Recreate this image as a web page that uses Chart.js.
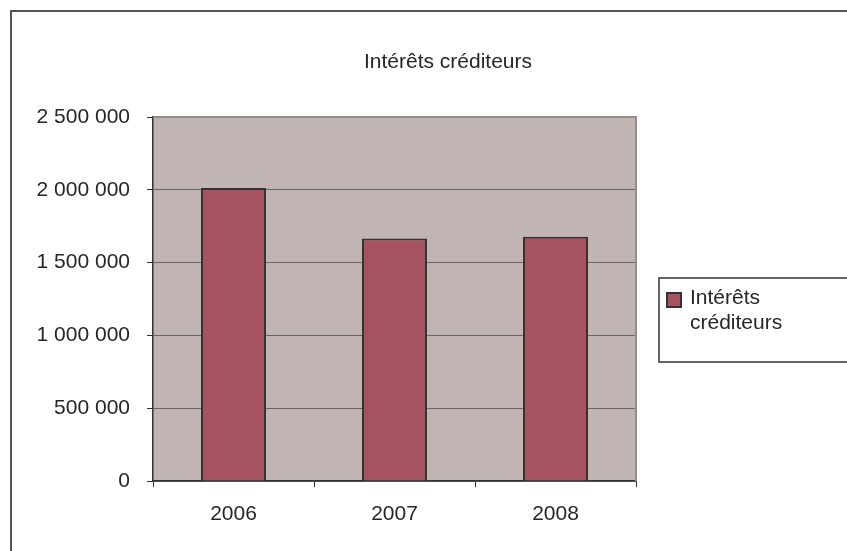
<!DOCTYPE html>
<html>
<head>
<meta charset="utf-8">
<script src="https://cdn.jsdelivr.net/npm/chart.js@4"></script>
<style>
  body { margin: 0; background: #fff; }
  canvas { display: block; }
</style>
</head>
<body>
<canvas id="chartInterets" width="847" height="551"></canvas>
<script>
// données
const annees = ['2006', '2007', '2008'];
const interets = [2013000, 1666000, 1677000];
const titre = 'Intérêts créditeurs';
const legende = ['Intérêts', 'créditeurs'];

const police = '"Liberation Sans", Arial, sans-serif';
const couleurBarre = '#A65260';

function formatNombre(v) {
    return v.toString().replace(/\B(?=(\d{3})+(?!\d))/g, ' ');
}

// fond gris de la zone de tracé + cadre, titre, légende
const decor = {
    id: 'decor',
    beforeDraw(chart) {
        const c = chart.ctx;
        const a = chart.chartArea;
        c.save();
        c.fillStyle = '#C0B5B3';
        c.fillRect(a.left, a.top, a.right - a.left, a.bottom - a.top);
        c.restore();
    },
    afterDraw(chart) {
        const c = chart.ctx;
        const a = chart.chartArea;
        c.save();
        // cadre extérieur
        c.strokeStyle = '#555';
        c.lineWidth = 2;
        c.strokeRect(11, 11, 870, 570);
        // bord haut et droit de la zone de tracé
        c.strokeStyle = '#958b89';
        c.lineWidth = 2;
        c.beginPath();
        c.moveTo(a.left, a.top);
        c.lineTo(a.right, a.top);
        c.lineTo(a.right, a.bottom);
        c.stroke();
        // titre
        c.fillStyle = '#262626';
        c.font = '21px ' + police;
        c.textAlign = 'center';
        c.textBaseline = 'middle';
        c.fillText(titre, 448, 62);
        // légende
        c.strokeStyle = '#333';
        c.lineWidth = 1.5;
        c.strokeRect(659, 278, 220, 84);
        c.fillStyle = couleurBarre;
        c.fillRect(667, 293, 14, 14);
        c.strokeStyle = '#333';
        c.lineWidth = 2;
        c.strokeRect(667, 293, 14, 14);
        c.fillStyle = '#262626';
        c.textAlign = 'left';
        c.fillText(legende[0], 690, 298);
        c.fillText(legende[1], 690, 323);
        c.restore();
    }
};

const ctx = document.getElementById('chartInterets').getContext('2d');
new Chart(ctx, {
    type: 'bar',
    data: {
        labels: annees,
        datasets: [{
            label: titre,
            data: interets,
            backgroundColor: couleurBarre,
            borderColor: '#333',
            borderWidth: 2,
            categoryPercentage: 1,
            barPercentage: 0.404
        }]
    },
    options: {
        responsive: false,
        animation: false,
        layout: { padding: { left: 0, top: 117, right: 211, bottom: 0 } },
        plugins: {
            legend: { display: false },
            title: { display: false },
            tooltip: { enabled: false }
        },
        scales: {
            x: {
                afterFit(s) { s.height = 70; },
                grid: {
                    offset: true,
                    drawOnChartArea: false,
                    tickLength: 6,
                    tickColor: '#333'
                },
                border: { color: '#333', width: 1.5 },
                ticks: {
                    color: '#262626',
                    padding: 15,
                    font: { family: police, size: 21 }
                }
            },
            y: {
                min: 0,
                max: 2500000,
                afterFit(s) { s.width = 153; },
                grid: {
                    color: '#666',
                    tickLength: 6,
                    tickColor: '#333'
                },
                border: { color: '#333', width: 1.5 },
                ticks: {
                    stepSize: 500000,
                    color: '#262626',
                    padding: 17,
                    font: { family: police, size: 21 },
                    callback: v => formatNombre(v)
                }
            }
        }
    },
    plugins: [decor]
});
</script>
</body>
</html>
